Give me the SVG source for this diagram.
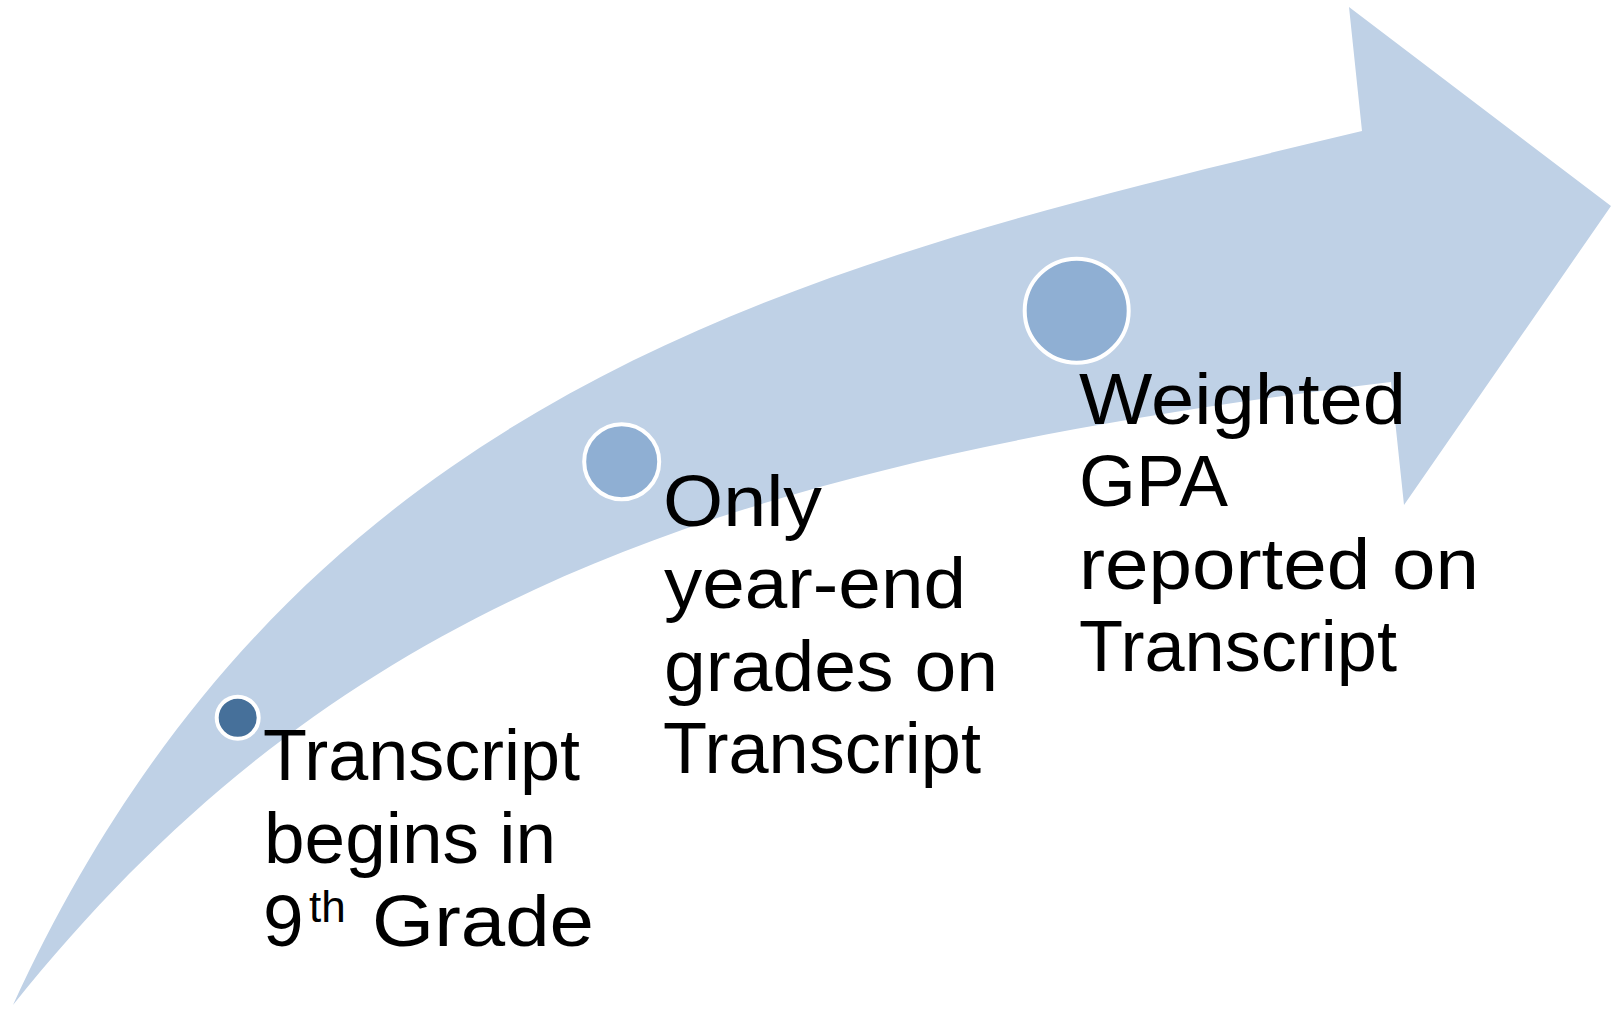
<svg xmlns="http://www.w3.org/2000/svg" width="1611" height="1009" viewBox="0 0 1611 1009">
<style>
.lbl{font-family:"Liberation Sans","DejaVu Sans",sans-serif;font-size:73px;fill:#000;}
.sup{font-family:"Liberation Sans","DejaVu Sans",sans-serif;font-size:44px;fill:#000;}
.dot{stroke:#fff;stroke-width:4;}
.arrow{fill:#BFD1E6;}
</style>
<rect x="0" y="0" width="1611" height="1009" fill="#fff"/>
<g id="arrow">
<path class="arrow" d="M13,1005 C300,380 812,263 1362,131 L1349,7 L1611,206 L1404,505 L1391,382 C696,466 325.5,615 13,1005 Z"/>
</g>
<g id="node1">
<circle class="dot" cx="237.7" cy="717.7" r="21" fill="#46709A"/>
<text class="lbl" x="263" y="780" textLength="317" lengthAdjust="spacingAndGlyphs">Transcript</text>
<text class="lbl" x="264" y="863" textLength="292" lengthAdjust="spacingAndGlyphs">begins in</text>
<text class="lbl" x="263" y="946">9</text>
<text class="sup" x="309" y="922">th</text>
<text class="lbl" x="372" y="946" textLength="222" lengthAdjust="spacingAndGlyphs">Grade</text>
</g>
<g id="node2">
<circle class="dot" cx="621.7" cy="461.7" r="37.5" fill="#8FAFD3"/>
<text class="lbl" x="663" y="526" textLength="159" lengthAdjust="spacingAndGlyphs">Only</text>
<text class="lbl" x="664" y="608" textLength="302" lengthAdjust="spacingAndGlyphs">year-end</text>
<text class="lbl" x="664" y="691" textLength="334" lengthAdjust="spacingAndGlyphs">grades on</text>
<text class="lbl" x="663" y="773" textLength="318" lengthAdjust="spacingAndGlyphs">Transcript</text>
</g>
<g id="node3">
<circle class="dot" cx="1076.7" cy="310.7" r="52" fill="#8FAFD3"/>
<text class="lbl" x="1079" y="423.5" textLength="327" lengthAdjust="spacingAndGlyphs">Weighted</text>
<text class="lbl" x="1079" y="506" textLength="149" lengthAdjust="spacingAndGlyphs">GPA</text>
<text class="lbl" x="1079" y="588.5" textLength="400" lengthAdjust="spacingAndGlyphs">reported on</text>
<text class="lbl" x="1079" y="671" textLength="318" lengthAdjust="spacingAndGlyphs">Transcript</text>
</g>
</svg>
